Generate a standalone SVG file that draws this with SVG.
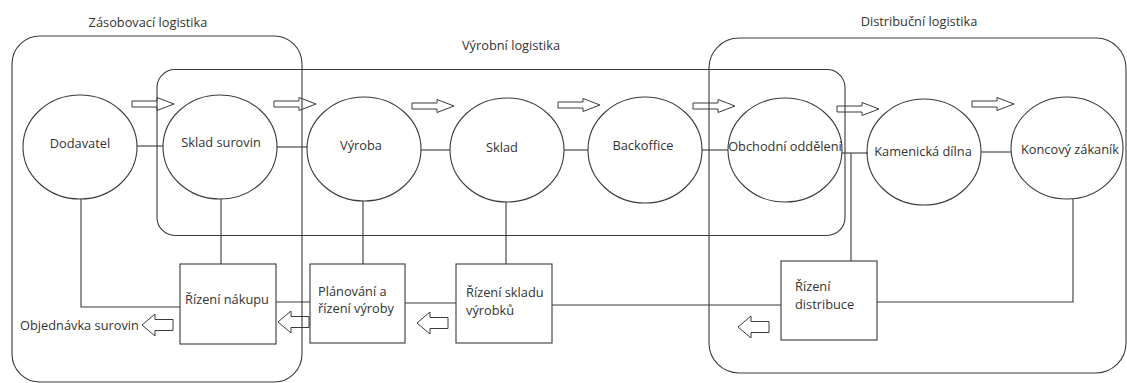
<svg xmlns="http://www.w3.org/2000/svg" width="1127" height="383" viewBox="0 0 1127 383">
<defs>
<style>
.grp{fill:none;stroke:#3a3a3a;stroke-width:1.1}
.node{fill:#fff;stroke:#3a3a3a;stroke-width:1.1}
.box{fill:none;stroke:#3a3a3a;stroke-width:1.1}
.ln{fill:none;stroke:#3a3a3a;stroke-width:1.1}
.arr{fill:none;stroke:#3a3a3a;stroke-width:1}
text{font-family:"Open Sans","Noto Sans","DejaVu Sans",sans-serif;font-size:12.8px;fill:#333}
.c{text-anchor:middle}
</style>
<path id="ar" d="M0,-3 H25 V-6.5 L42,0 L25,6.5 V3 H0 Z"/>
<path id="al" d="M0,0 L13,-11 V-5.5 H31 V5.5 H13 V11 Z"/>
</defs>
<rect fill="#fff" width="1127" height="383"/>
<g id="n-dodavatel"><ellipse class="node" cx="80" cy="147" rx="57" ry="52"/><text class="c" x="80" y="148">Dodavatel</text></g>
<g id="n-sklad-surovin"><ellipse class="node" cx="220" cy="147" rx="57" ry="52"/><text class="c" x="221" y="147">Sklad surovin</text></g>
<g id="n-vyroba"><ellipse class="node" cx="364" cy="149" rx="57" ry="52"/><text class="c" x="361" y="150">Výroba</text></g>
<g id="n-sklad"><ellipse class="node" cx="507" cy="150" rx="57" ry="52"/><text class="c" x="502" y="152">Sklad</text></g>
<g id="n-backoffice"><ellipse class="node" cx="645" cy="150" rx="57" ry="53"/><text class="c" x="643" y="150">Backoffice</text></g>
<g id="n-obchodni"><ellipse class="node" cx="785" cy="150" rx="57" ry="52"/><text class="c" x="785" y="151">Obchodní oddělení</text></g>
<g id="n-kamenicka"><ellipse class="node" cx="924" cy="152" rx="57" ry="53"/><text class="c" x="923" y="156">Kamenická dílna</text></g>
<g id="n-koncovy"><ellipse class="node" cx="1067" cy="148" rx="56" ry="51"/><text class="c" x="1070" y="154">Koncový zákaník</text></g>
<g id="groups">
<rect class="grp" x="12" y="36" width="290" height="346" rx="28"/>
<rect class="grp" x="157" y="69.5" width="688" height="166" rx="18"/>
<rect class="grp" x="709" y="38" width="417" height="335" rx="30"/>
<text class="c" x="148" y="27">Zásobovací logistika</text>
<text class="c" x="511" y="50">Výrobní logistika</text>
<text class="c" x="919" y="26">Distribuční logistika</text>
</g>
<g id="connectors">
<path class="ln" d="M137,146 H163"/>
<path class="ln" d="M277,147 H307"/>
<path class="ln" d="M421,150 H450"/>
<path class="ln" d="M564,150 H588"/>
<path class="ln" d="M702,150 H728"/>
<path class="ln" d="M842,153 H868"/>
<path class="ln" d="M981,152 H1011"/>
<path class="ln" d="M81,199 V307 H180"/>
<path class="ln" d="M221,199 V264"/>
<path class="ln" d="M363,201 V264"/>
<path class="ln" d="M506,202 V264"/>
<path class="ln" d="M851,153 V261"/>
<path class="ln" d="M1073,199 V302 H877"/>
<path class="ln" d="M276,302 H310"/>
<path class="ln" d="M405,303 H456"/>
<path class="ln" d="M552,305 H781"/>
<use href="#ar" class="arr" x="132" y="104"/>
<use href="#ar" class="arr" x="274" y="104"/>
<use href="#ar" class="arr" x="412" y="106"/>
<use href="#ar" class="arr" x="558" y="105"/>
<use href="#ar" class="arr" x="693" y="106"/>
<use href="#ar" class="arr" x="837" y="109"/>
<use href="#ar" class="arr" x="972" y="104"/>
<use href="#al" class="arr" x="142" y="325"/>
<use href="#al" class="arr" x="278" y="322"/>
<use href="#al" class="arr" x="417" y="323"/>
<use href="#al" class="arr" x="738" y="327"/>
</g>
<g id="n-rizeni-nakupu"><rect class="box" x="180" y="264" width="96" height="80"/><text class="c" x="227" y="304">Řízení nákupu</text></g>
<g id="n-planovani"><rect class="box" x="310" y="264" width="95" height="79"/><text x="318" y="296">Plánování a</text><text x="318" y="313">řízení výroby</text></g>
<g id="n-rizeni-skladu"><rect class="box" x="456" y="264" width="96" height="79"/><text x="466" y="297">Řízení skladu</text><text x="466" y="315">výrobků</text></g>
<g id="n-rizeni-distribuce"><rect class="box" x="781" y="261" width="96" height="79"/><text x="795" y="291">Řízení</text><text x="795" y="309">distribuce</text></g>
<g id="t-objednavka"><text x="20" y="330">Objednávka surovin</text></g>
</svg>
